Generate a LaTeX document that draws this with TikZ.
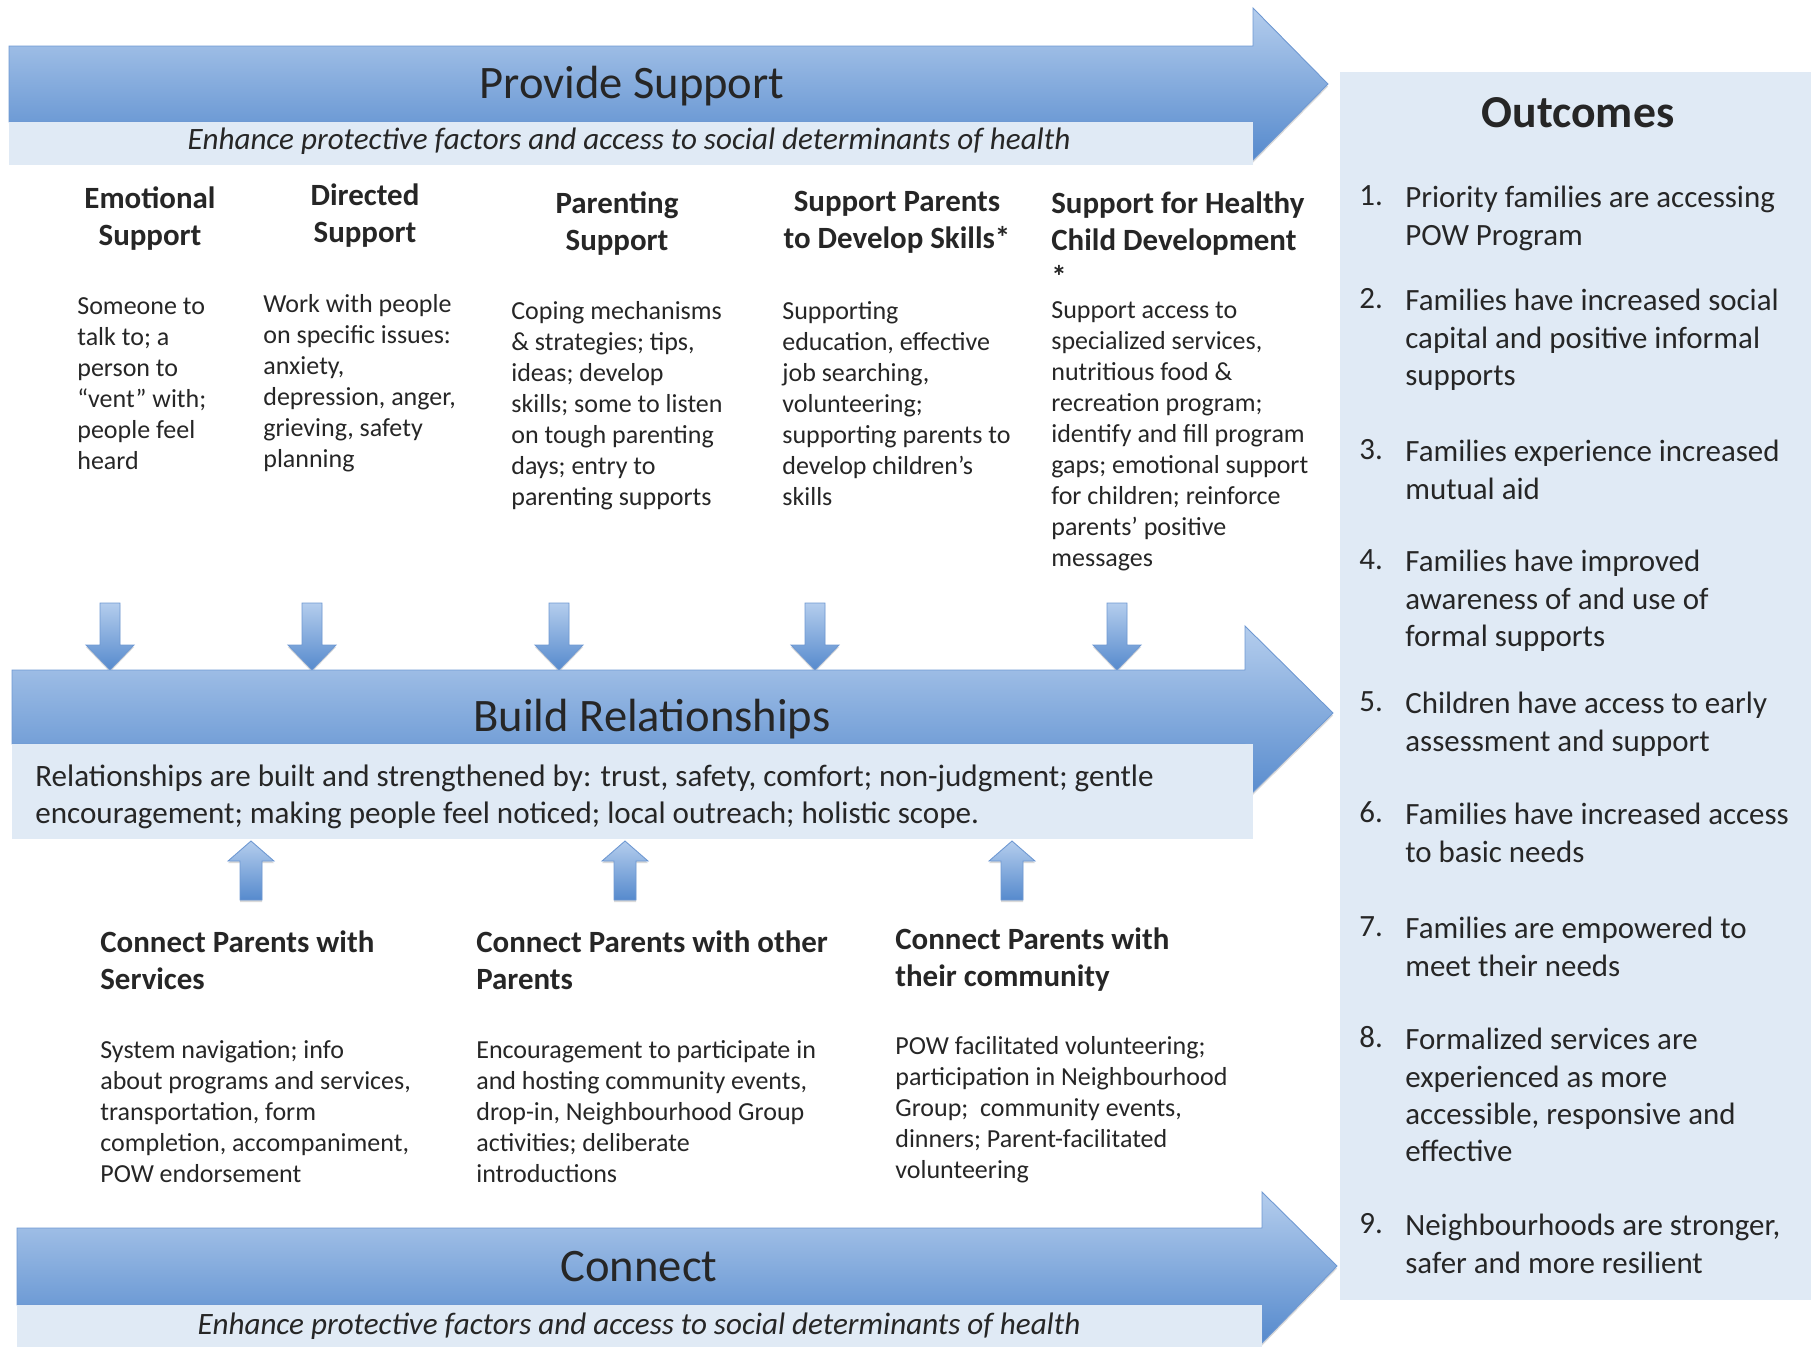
\documentclass[tikz,border=0pt]{standalone}
\usepackage{fontspec}
\setmainfont{Carlito}
\usetikzlibrary{shadows}
\definecolor{pbtop}{RGB}{180,205,237}
\definecolor{pbbot}{RGB}{86,138,205}
\definecolor{pbline}{RGB}{110,152,210}
\definecolor{pbband}{RGB}{224,234,245}
\definecolor{pbtext}{RGB}{38,38,38}

\newcommand{\bodysize}{\fontsize{14.8}{17.6}\selectfont}
\newcommand{\headsize}{\fontsize{17.6}{21.1}\selectfont}
\newcommand{\outsize}{\fontsize{17.6}{21.3}\selectfont}
\newcommand{\titlesize}{\fontsize{26.5}{30}\selectfont}

% multi-line texts hang from the baseline of their first line
\tikzset{
  bigarrow/.style={draw=pbline, line width=0.5pt, top color=pbtop, bottom color=pbbot,
    drop shadow={shadow xshift=0pt, shadow yshift=-1.5pt, opacity=0.3}},
  smallarrow/.style={draw=pbline, line width=0.5pt, top color=pbtop, bottom color=pbbot,
    drop shadow={shadow xshift=0pt, shadow yshift=-1.2pt, opacity=0.3}},
  band/.style={fill=pbband, draw=none},
  arrowtitle/.style={font=\titlesize, text=pbtext, anchor=base, inner sep=0pt},
  subline/.style={font=\fontsize{17.7}{21}\selectfont\itshape, text=pbtext, anchor=base, inner sep=0pt},
  hang/.style={inner sep=0pt, text=pbtext, execute at begin node=\strut, yshift=#1},
  colhead/.style={font=\headsize\bfseries, align=center, anchor=north, hang=10.77pt},
  colheadl/.style={font=\headsize\bfseries, align=left, anchor=north west, hang=10.77pt},
  colbody/.style={font=\bodysize, align=left, anchor=north west, hang=8.32pt},
  outnum/.style={font=\outsize, text=pbtext, anchor=base west, inner sep=0pt},
  outitem/.style={font=\outsize, align=left, anchor=north west, hang=10.91pt},
}

\begin{document}
\begin{tikzpicture}[x=0.02cm, y=-0.02cm]
  \useasboundingbox (0,0) rectangle (1811,1347);
  % Outcomes panel
  \fill[pbband] (1340,72) rectangle (1811,1300);
  \node[font=\fontsize{26}{30}\selectfont\bfseries, text=pbtext, anchor=base] (outtitle) at (1578,127) {Outcomes};

  % Top arrow: Provide Support
  \draw[bigarrow] (9,46) -- (1253,46) -- (1253,8) -- (1328,84) -- (1253,160) -- (1253,122) -- (9,122) -- cycle;
  \fill[band] (9,122) rectangle (1253,165);
  \node[arrowtitle] (provide) at (632,98) {Provide Support};
  \node[subline] (providesub) at (629,149) {Enhance protective factors and access to social determinants of health};

  % Support columns
  \node[colhead] (emohead) at (150,205) {Emotional\\Support};
  \node[colhead] (dirhead) at (365,202) {Directed\\Support};
  \node[colhead] (parhead) at (617,210) {Parenting\\Support};
  \node[colhead] (skillhead) at (897,210) {Support Parents\\to Develop Skills*};
  \node[colheadl] (childhead) at (1051,210) {Support for Healthy\\Child Development\\*};

  \node[colbody] (emobody) at (77,312) {Someone to\\talk to; a\\person to\\“vent” with;\\people feel\\heard};
  \node[colbody] (dirbody) at (263,309) {Work with people\\on specific issues:\\anxiety,\\depression, anger,\\grieving, safety\\planning};
  \node[colbody] (parbody) at (511,316) {Coping mechanisms\\\& strategies; tips,\\ideas; develop\\skills; some to listen\\on tough parenting\\days; entry to\\parenting supports};
  \node[colbody] (skillbody) at (782,316) {Supporting\\education, effective\\job searching,\\volunteering;\\supporting parents to\\develop children’s\\skills};
  \node[colbody] (childbody) at (1051,316) {Support access to\\specialized services,\\nutritious food \&\\recreation program;\\identify and fill program\\gaps; emotional support\\for children; reinforce\\parents’ positive\\messages};

  % Down arrows into the middle arrow
  \foreach \c in {110,312,559,815,1117}
    \draw[smallarrow] (\c-10,603) -- (\c+10,603) -- (\c+10,645) -- (\c+24,645) -- (\c,670)
      -- (\c-24,645) -- (\c-10,645) -- cycle;

  % Middle arrow: Build Relationships
  \draw[bigarrow] (12,670) -- (1245,670) -- (1245,626) -- (1333,713) -- (1245,800) -- (1245,744) -- (12,744) -- cycle;
  \fill[band] (12,744) rectangle (1253,839);
  \node[arrowtitle] (build) at (652,731) {Build Relationships};
  \node[font=\fontsize{17.7}{21.06}\selectfont, align=left, anchor=north west, hang=10.74pt] (buildtext) at (35,783)
    {Relationships are built and strengthened by: trust, safety, comfort; non-judgment; gentle\\encouragement; making people feel noticed; local outreach; holistic scope.};

  % Up arrows from the connect columns
  \foreach \c in {251,625,1012}
    \draw[smallarrow] (\c-11,900) -- (\c+11,900) -- (\c+11,861) -- (\c+23,861) -- (\c,841)
      -- (\c-23,861) -- (\c-11,861) -- cycle;

  % Connect columns
  \node[colheadl] (svchead) at (100,949) {Connect Parents with\\Services};
  \node[colheadl] (parentshead) at (476,949) {Connect Parents with other\\Parents};
  \node[colheadl] (commhead) at (895,946) {Connect Parents with\\their community};

  \node[colbody] (svcbody) at (100,1055) {System navigation; info\\about programs and services,\\transportation, form\\completion, accompaniment,\\POW endorsement};
  \node[colbody] (parentsbody) at (476,1055) {Encouragement to participate in\\and hosting community events,\\drop-in, Neighbourhood Group\\activities; deliberate\\introductions};
  \node[colbody] (commbody) at (895,1051) {POW facilitated volunteering;\\participation in Neighbourhood\\Group;~ community events,\\dinners; Parent-facilitated\\volunteering};

  % Bottom arrow: Connect
  \draw[bigarrow] (17,1228) -- (1262,1228) -- (1262,1192) -- (1337,1266) -- (1262,1343) -- (1262,1305) -- (17,1305) -- cycle;
  \fill[band] (17,1305) rectangle (1262,1347);
  \node[arrowtitle] (connect) at (639,1281) {Connect};
  \node[subline] (connectsub) at (639,1334) {Enhance protective factors and access to social determinants of health};

  % Outcome list
  \foreach \n/\y/\t in {
      1/205/{Priority families are accessing\\POW Program},
      2/308/{Families have increased social\\capital and positive informal\\supports},
      3/459/{Families experience increased\\mutual aid},
      4/569/{Families have improved\\awareness of and use of\\formal supports},
      5/711/{Children have access to early\\assessment and support},
      6/822/{Families have increased access\\to basic needs},
      7/936/{Families are empowered to\\meet their needs},
      8/1047/{Formalized services are\\experienced as more\\accessible, responsive and\\effective},
      9/1233/{Neighbourhoods are stronger,\\safer and more resilient}} {
    \node[outnum] (num\n) at (1359,\y) {\n.};
    \node[outitem] (out\n) at (1405,\y) {\t};
  }
\end{tikzpicture}
\end{document}
